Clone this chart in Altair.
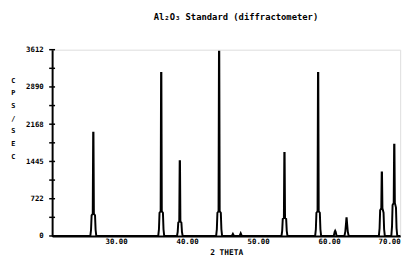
import altair as alt
import pandas as pd

# Diffraction trace vertices (2-theta in degrees, intensity in CPS/SEC)
two_theta = [
    21.00,
    26.38, 26.48, 26.56, 26.72, 26.78, 26.82, 26.88, 27.04, 27.12, 27.22,
    35.94, 36.04, 36.12, 36.28, 36.34, 36.38, 36.44, 36.60, 36.68, 36.78,
    38.58, 38.68, 38.76, 38.90, 38.96, 39.00, 39.06, 39.20, 39.28, 39.38,
    44.09, 44.19, 44.27, 44.43, 44.49, 44.53, 44.59, 44.75, 44.83, 44.93,
    46.30, 46.45, 46.60, 47.40, 47.55, 47.70,
    53.29, 53.39, 53.47, 53.63, 53.69, 53.73, 53.79, 53.95, 54.03, 54.13,
    58.03, 58.13, 58.21, 58.37, 58.43, 58.47, 58.53, 58.69, 58.77, 58.87,
    60.65, 60.78, 60.85, 60.92, 61.05,
    62.15, 62.28, 62.38, 62.43, 62.47, 62.52, 62.62, 62.75,
    67.00, 67.10, 67.18, 67.34, 67.40, 67.44, 67.50, 67.66, 67.74, 67.84,
    68.75, 68.85, 68.93, 69.09, 69.15, 69.19, 69.25, 69.41, 69.49, 69.59,
    70.00,
]
counts = [
    0,
    0, 120, 400, 430, 2002, 2002, 430, 400, 120, 0,
    0, 130, 450, 480, 3161, 3161, 480, 450, 130, 0,
    0, 80, 260, 280, 1450, 1450, 280, 260, 80, 0,
    0, 130, 450, 480, 3574, 3574, 480, 450, 130, 0,
    0, 40, 0, 0, 50, 0,
    0, 100, 330, 350, 1610, 1610, 350, 330, 100, 0,
    0, 130, 450, 480, 3161, 3161, 480, 450, 130, 0,
    0, 80, 100, 80, 0,
    0, 90, 250, 342, 342, 250, 90, 0,
    0, 150, 500, 540, 1230, 1230, 540, 450, 130, 0,
    0, 180, 600, 640, 1768, 1768, 640, 550, 150, 0,
    0,
]

y_tick_values = [0, 361.2, 722.4, 1083.6, 1444.8, 1806, 2167.2, 2528.4, 2889.6, 3250.8, 3612]
y_label_values = [0, 722.4, 1444.8, 2167.2, 2889.6, 3612]
y_label_texts = ["0", "722", "1445", "2168", "2890", "3612"]
x_tick_values = [30, 40, 50, 60, 70]
y_title_letters = ["C", "P", "S", "/", "S", "E", "C"]

FONT = "DejaVu Sans Mono"

df = pd.DataFrame({"t": two_theta, "c": counts})
ticks_df = pd.DataFrame({"v": y_tick_values})

label_expr = " : ".join(
    f"abs(datum.value - {v}) < 1 ? '{s}'" for v, s in zip(y_label_values, y_label_texts)
) + " : ''"

x_scale = alt.Scale(domain=[21, 70], nice=False, zero=False)
y_scale = alt.Scale(domain=[0, 3612], nice=False)

y_axis = alt.Axis(values=y_label_values, labelExpr=label_expr, labelOverlap=False,
                  title=y_title_letters, titleAngle=0, titleX=-40, titleY=27,
                  titleAlign="center", titleBaseline="top", titleLineHeight=13,
                  titleFont=FONT, titleFontSize=7, titleFontWeight="bold",
                  titleColor="black", ticks=False, grid=False, labelPadding=9,
                  labelFont=FONT, labelFontSize=7.5, labelFontWeight="bold",
                  labelColor="black", domainColor="black", domainWidth=2)

line = alt.Chart(df).mark_line(color="black", strokeWidth=2, interpolate="linear").encode(
    x=alt.X("t:Q", scale=x_scale,
            axis=alt.Axis(values=x_tick_values, format=".2f", title="2 THETA",
                          ticks=False, grid=False, labelPadding=2, labelOverlap=False,
                          labelFont=FONT, labelFontSize=7.5, labelFontWeight="bold",
                          labelColor="black", titleFont=FONT, titleFontSize=8,
                          titleFontWeight="bold", titleColor="black", titlePadding=3,
                          domainColor="black", domainWidth=2, labelFlush=True)),
    y=alt.Y("c:Q", scale=y_scale, axis=y_axis),
)

tick_marks = alt.Chart(ticks_df).mark_rule(color="black", strokeWidth=1.5).encode(
    y=alt.Y("v:Q", scale=y_scale, axis=y_axis),
    x=alt.value(-3),
    x2=alt.value(3),
)

chart = alt.layer(line, tick_marks).properties(
    width=355,
    height=190,
    title=alt.TitleParams(
        "Al₂O₃ Standard (diffractometer)",
        font=FONT, fontSize=9, fontWeight="bold", color="black",
        anchor="middle", dx=10, offset=24,
    ),
    autosize=alt.AutoSizeParams(type="none"),
    padding={"left": 45, "top": 40, "right": 9, "bottom": 22},
).configure_view(stroke=None).configure_axis(labelOverlap=False).configure(background="white")

chart.save("out.html", embed_options={"renderer": "svg", "actions": False})
